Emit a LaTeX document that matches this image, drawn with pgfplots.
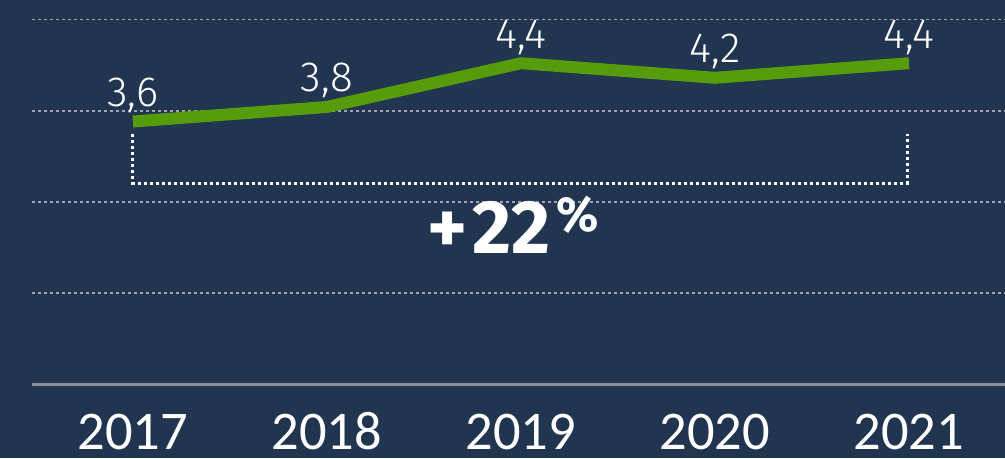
\documentclass[border=0pt]{standalone}
\usepackage{pgfplots}
\pgfplotsset{compat=1.18}
\usepackage{fontspec}
\setmainfont{Carlito}
\newfontfamily\labelfont{Fira Sans Light}
\newfontfamily\pctfont{Fira Sans}

\definecolor{bg}{RGB}{33,52,80}
\definecolor{linegreen}{RGB}{85,155,10}
\definecolor{gridgray}{RGB}{160,165,175}
\definecolor{axisgray}{RGB}{140,143,150}

\begin{document}
\begin{tikzpicture}
  % 1 px of the reference = 0.1 mm
  \useasboundingbox (0,0) rectangle (10.05cm,4.58cm);
  \fill[bg] (0,0) rectangle (10.05cm,4.58cm);
  \begin{axis}[
      at={(0.32cm,0.74cm)}, anchor=south west,
      scale only axis,
      width=9.73cm, height=3.84cm,
      xmin=-0.52, xmax=4.495,
      ymin=0, ymax=5.267,
      separate axis lines,
      axis x line*=bottom,
      axis y line*=left,
      x axis line style={draw=axisgray, line width=0.3mm, -},
      y axis line style={draw=none},
      xtick={0,1,2,3,4},
      xticklabels={2017,2018,2019,2020,2021},
      xticklabel style={font=\fontsize{15.5}{18}\selectfont, text=white,
          anchor=base, yshift=-6.5mm, inner sep=0pt},
      major tick length=0pt,
      ytick={1.25,2.5,3.75,5},
      yticklabels={},
      ymajorgrids,
      grid style={gridgray, line width=0.18mm, dash pattern=on 0.3mm off 0.3mm},
      clip=false,
      nodes near coords,
      every node near coord/.append style={
          font=\labelfont\fontsize{12}{14}\selectfont, text=white,
          anchor=south, yshift=-0.9mm,
          /pgf/number format/.cd, use comma, fixed, fixed zerofill,
          precision=1, assume math mode=true},
    ]
    \addplot[linegreen, line width=1.2mm, line cap=butt, line join=round]
      coordinates {(0,3.6) (1,3.8) (2,4.4) (3,4.2) (4,4.4)};

    % bracket for the change 2017-2021
    \draw[white, line width=0.3mm, dash pattern=on 0.3mm off 0.3mm]
      (axis cs:0,3.43) -- (axis cs:0,2.757) -- (axis cs:3.99,2.757) -- (axis cs:3.99,3.43);
    \node[text=white, font=\pctfont\bfseries\fontsize{21.5}{24}\selectfont]
      at (axis cs:1.96,2.18) {+\kern0.06em22\kern0.08em\raisebox{0.55ex}{\fontsize{14}{16}\selectfont\%}};
  \end{axis}
\end{tikzpicture}
\end{document}
